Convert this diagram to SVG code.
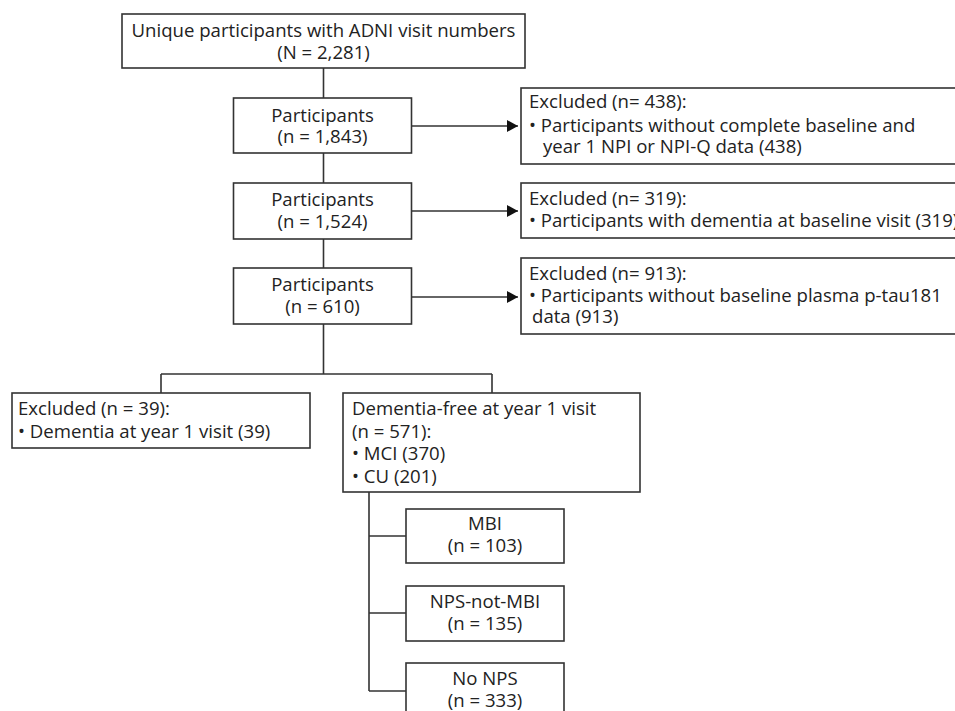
<svg xmlns="http://www.w3.org/2000/svg" width="955" height="711" viewBox="0 0 955 711">
<defs>
<marker id="arr" markerWidth="12" markerHeight="12" refX="11" refY="6" orient="auto" markerUnits="userSpaceOnUse">
<path d="M0,0 L11,6 L0,12 Z" fill="#111"/>
</marker>
<style>
.box{fill:#fff;stroke:#333;stroke-width:1.6}
.ln{fill:none;stroke:#333;stroke-width:1.6}
text{font-family:"Open Sans","Noto Sans","DejaVu Sans",sans-serif;font-size:18.6px;fill:#222}
.c{text-anchor:middle}
</style>
</defs>
<rect width="955" height="711" fill="#fff"/>
<g id="connectors">
<path class="ln" d="M323.5,68 V98"/>
<path class="ln" d="M323.5,153 V183"/>
<path class="ln" d="M323.5,239 V268"/>
<path class="ln" d="M323.5,324 V374 M161,374 H492 M161,374 V393 M492,374 V393"/>
<path class="ln" d="M369,492 V691 M369,536 H406 M369,613 H406 M369,691 H406"/>
<path class="ln" d="M411.5,126 H518" marker-end="url(#arr)"/>
<path class="ln" d="M411.5,211 H518" marker-end="url(#arr)"/>
<path class="ln" d="M411.5,297 H518" marker-end="url(#arr)"/>
</g>
<g id="n-top">
<rect class="box" x="122" y="14" width="403" height="54"/>
<text class="c" x="323.5" y="37">Unique participants with ADNI visit numbers</text>
<text class="c" x="323.5" y="59">(N = 2,281)</text>
</g>
<g id="n-p1">
<rect class="box" x="233.5" y="98" width="178" height="55"/>
<text class="c" x="322.5" y="122">Participants</text>
<text class="c" x="322.5" y="143">(n = 1,843)</text>
</g>
<g id="n-p2">
<rect class="box" x="233.5" y="183" width="178" height="56"/>
<text class="c" x="322.5" y="206">Participants</text>
<text class="c" x="322.5" y="228">(n = 1,524)</text>
</g>
<g id="n-p3">
<rect class="box" x="233.5" y="268" width="178" height="56"/>
<text class="c" x="322.5" y="291">Participants</text>
<text class="c" x="322.5" y="313">(n = 610)</text>
</g>
<g id="n-ex1">
<rect class="box" x="521" y="88" width="445" height="76"/>
<text x="529" y="108">Excluded (n= 438):</text>
<text x="529" y="132">• Participants without complete baseline and</text>
<text x="543" y="153">year 1 NPI or NPI-Q data (438)</text>
</g>
<g id="n-ex2">
<rect class="box" x="521" y="183" width="445" height="55"/>
<text x="529" y="205">Excluded (n= 319):</text>
<text x="529" y="227">• Participants with dementia at baseline visit (319)</text>
</g>
<g id="n-ex3">
<rect class="box" x="521" y="258" width="445" height="76"/>
<text x="529" y="280">Excluded (n= 913):</text>
<text x="529" y="302">• Participants without baseline plasma p-tau181</text>
<text x="532" y="323">data (913)</text>
</g>
<g id="n-ex39">
<rect class="box" x="12" y="393" width="298" height="55"/>
<text x="18" y="415">Excluded (n = 39):</text>
<text x="18" y="438">• Dementia at year 1 visit (39)</text>
</g>
<g id="n-free">
<rect class="box" x="343" y="393" width="297" height="99"/>
<text x="352" y="415">Dementia-free at year 1 visit</text>
<text x="352" y="438">(n = 571):</text>
<text x="352" y="460">• MCI (370)</text>
<text x="352" y="483">• CU (201)</text>
</g>
<g id="n-mbi">
<rect class="box" x="406" y="509" width="158" height="54"/>
<text class="c" x="485" y="530">MBI</text>
<text class="c" x="485" y="552">(n = 103)</text>
</g>
<g id="n-nps">
<rect class="box" x="406" y="586" width="158" height="55"/>
<text class="c" x="485" y="608">NPS-not-MBI</text>
<text class="c" x="485" y="630">(n = 135)</text>
</g>
<g id="n-nonps">
<rect class="box" x="406" y="663" width="158" height="55"/>
<text class="c" x="485" y="685">No NPS</text>
<text class="c" x="485" y="707">(n = 333)</text>
</g>
</svg>
